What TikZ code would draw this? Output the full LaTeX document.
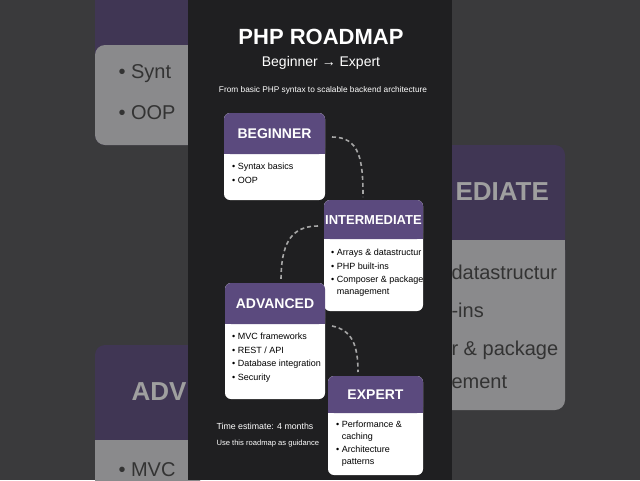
\documentclass[tikz,border=0pt]{standalone}
\usepackage{fontspec}
\setmainfont{Liberation Sans}
\begin{document}
\begin{tikzpicture}[x=1pt,y=-1pt,
 hdr/.style={fill=hp,rounded corners=6pt},
 body/.style={fill=white,rounded corners=6pt},
 ht/.style={text=white,font=\bfseries\fontsize{14}{16}\selectfont},
 it/.style={anchor=north west,align=left,font=\fontsize{9}{11.5}\selectfont,inner sep=0pt},
 dashlink/.style={draw=gray!70,line width=1.6pt,dash pattern=on 4pt off 3pt}]
\definecolor{hp}{HTML}{5B4A7E}
\definecolor{bg}{HTML}{3A3A3C}
\definecolor{panel}{HTML}{1F1F21}
\definecolor{bgbody}{HTML}{8A8A8C}
\definecolor{bghdr}{HTML}{403654}
\useasboundingbox (0,0) rectangle (640,480);
\fill[bg] (0,0) rectangle (640,480);
% blurred backdrop
\fill[fill=bghdr,rounded corners=10pt] (95,-20) rectangle (200,145);
\fill[fill=bgbody,rounded corners=10pt] (95,45) rectangle (200,145);
\node[anchor=west,text=black!80,font=\fontsize{20}{24}\selectfont] (l1) at (115,74) {• Synt};
\node[anchor=west,text=black!80,font=\fontsize{20}{24}\selectfont] (l2) at (115,113) {• OOP};
\fill[fill=bghdr,rounded corners=10pt] (440,145) rectangle (565,300);
\fill[fill=bgbody] (440,240) rectangle (565,300);
\fill[fill=bgbody,rounded corners=10pt] (440,240) rectangle (565,410);
\node[anchor=west,text=gray!75,font=\bfseries\fontsize{26}{30}\selectfont] (r0) at (452,192) {EDIATE};
\node[anchor=west,text=black!80,font=\fontsize{20}{24}\selectfont] (r1) at (448,272) {datastructur};
\node[anchor=west,text=black!80,font=\fontsize{20}{24}\selectfont] (r2) at (448,310) {-ins};
\node[anchor=west,text=black!80,font=\fontsize{20}{24}\selectfont] (r3) at (448,350) {r \& package};
\node[anchor=west,text=black!80,font=\fontsize{20}{24}\selectfont] (r4) at (448,382) {ement};
\fill[fill=bghdr,rounded corners=10pt] (95,345) rectangle (200,500);
\fill[fill=bgbody] (95,440) rectangle (200,500);
\node[anchor=west,text=gray!75,font=\bfseries\fontsize{26}{30}\selectfont] (b0) at (128,392) {ADV};
\node[anchor=west,text=black!80,font=\fontsize{20}{24}\selectfont] (b1) at (115,470) {• MVC};
% panel
\fill[panel] (188,0) rectangle (452,480);
\node[text=white,font=\bfseries\fontsize{22}{25}\selectfont] (title) at (321,37) {PHP ROADMAP};
\node[text=white,font=\fontsize{14}{16}\selectfont] (sub) at (321,63) {Beginner → Expert};
\node[text=white,font=\fontsize{8.3}{10}\selectfont] (desc) at (323,90) {From basic PHP syntax to scalable backend architecture};
% boxes
\newcommand{\stagebox}[5]{%
 \fill[body] (#1,#2) rectangle (#3,#4);
 \fill[hdr] (#1,#2) rectangle (#3,#5);
 \fill[hp] (#1,#5-8) rectangle (#3,#5);
}
\stagebox{224}{113}{325}{200}{154}
\node[ht] (beg) at (274.5,134) {BEGINNER};
\node[it] (begi) at (232,163) {• Syntax basics\\[2pt]• OOP};
\stagebox{324}{200}{423}{311}{239}
\node[ht,font=\bfseries\fontsize{13}{16}\selectfont] (int) at (373.5,220) {INTERMEDIATE};
\node[it] (inti) at (331,249) {• Arrays \& datastructur\\[2pt]• PHP built-ins\\[2pt]• Composer \& package\\\hphantom{• }management};
\stagebox{225}{283}{325}{399}{324}
\node[ht] (adv) at (275,304) {ADVANCED};
\node[it] (advi) at (232,333) {• MVC frameworks\\[2pt]• REST / API\\[2pt]• Database integration\\[2pt]• Security};
\stagebox{328}{376}{423}{475}{413}
\node[ht] (exp) at (375.5,395) {EXPERT};
\node[it] (expi) at (336,421) {• Performance \&\\\hphantom{• }caching\\[2pt]• Architecture\\\hphantom{• }patterns};
\node[anchor=west,text=white,font=\fontsize{8.8}{10}\selectfont] (te) at (213,426) {Time estimate: 4 months};
\node[anchor=west,text=white,font=\fontsize{7.6}{9}\selectfont] (gu) at (213,444) {Use this roadmap as guidance};
% connectors
\coordinate (c1) at (332,137); \coordinate (c2) at (363,197);
\coordinate (c3) at (318,226); \coordinate (c4) at (281,281);
\coordinate (c5) at (332,326); \coordinate (c6) at (358,372);
\draw[dashlink] (c1) .. controls (360,137) and (363,160) .. (c2);
\draw[dashlink] (c3) .. controls (290,226) and (281,245) .. (c4);
\draw[dashlink] (c5) .. controls (352,330) and (358,345) .. (c6);
\end{tikzpicture}
\end{document}
